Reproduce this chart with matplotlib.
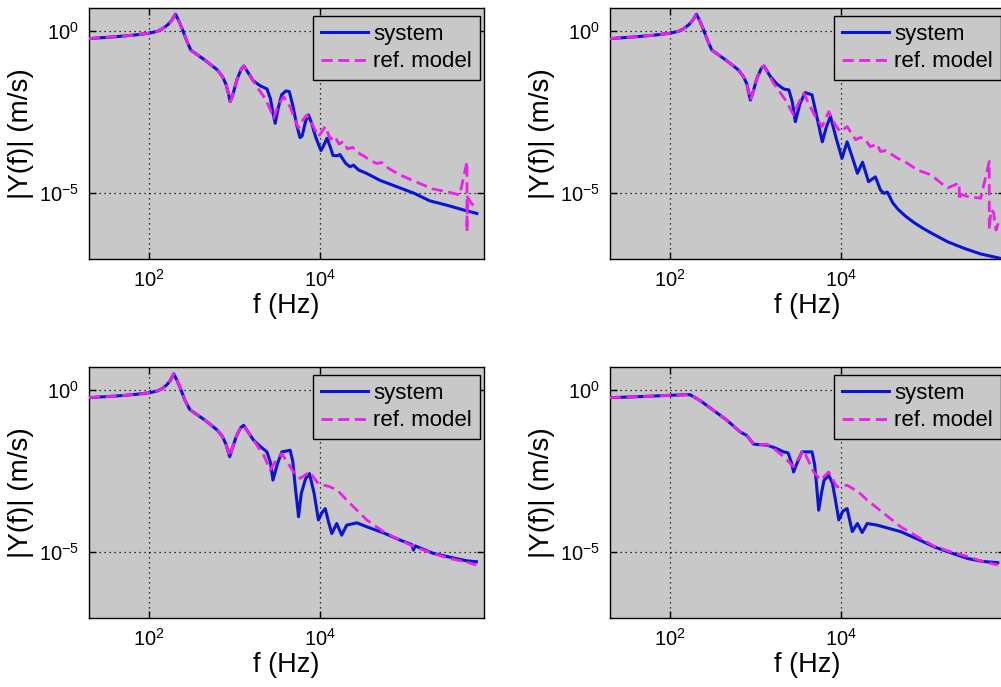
import numpy as np
import matplotlib
matplotlib.use("Agg")
import matplotlib.pyplot as plt
from matplotlib.ticker import FixedLocator, NullLocator, LogFormatterSciNotation

plt.rcParams['font.family'] = ['Liberation Sans', 'DejaVu Sans']
plt.rcParams['mathtext.fontset'] = 'custom'
plt.rcParams['mathtext.rm'] = 'Liberation Sans'
plt.rcParams['mathtext.it'] = 'Liberation Sans:italic'
plt.rcParams['mathtext.bf'] = 'Liberation Sans:bold'
plt.rcParams['mathtext.default'] = 'regular'

# ---------------- data (log10 of frequency in Hz, log10 of |Y(f)| in m/s) ----------------
# top-left panel
tl_sys_logf = [1.30, 1.60, 1.83, 2.00, 2.10, 2.16, 2.22, 2.27, 2.31, 2.35, 2.39, 2.44, 2.49, 2.66, 2.80, 2.86,
               2.90, 2.93, 2.95, 2.98, 3.03, 3.08, 3.11, 3.16, 3.22, 3.30, 3.38, 3.42, 3.45, 3.475, 3.51, 3.55,
               3.60, 3.64, 3.68, 3.73, 3.765, 3.79, 3.83, 3.865, 3.90, 3.95, 4.01, 4.04, 4.08, 4.12, 4.15, 4.20,
               4.23, 4.30, 4.35, 4.39, 4.45, 4.54, 4.70, 4.93, 5.10, 5.28, 5.50, 5.67, 5.83]
tl_sys_logy = [-0.245, -0.19, -0.135, -0.08, -0.02, 0.06, 0.18, 0.33, 0.51, 0.30, 0.05, -0.30, -0.60, -0.92,
               -1.21, -1.42, -1.65, -1.95, -2.19, -1.98, -1.50, -1.18, -1.09, -1.30, -1.55, -1.70, -1.80, -2.10,
               -2.55, -2.86, -2.40, -1.98, -1.86, -1.88, -2.30, -2.95, -3.30, -3.25, -2.80, -2.60, -2.85, -3.30,
               -3.70, -3.55, -3.32, -3.60, -3.85, -3.86, -3.82, -4.10, -4.20, -4.15, -4.30, -4.40, -4.62, -4.85,
               -5.02, -5.25, -5.40, -5.53, -5.64]
tl_ref_logf = [1.30, 1.60, 1.83, 2.00, 2.10, 2.16, 2.22, 2.27, 2.31, 2.35, 2.39, 2.44, 2.49, 2.66, 2.80, 2.86,
               2.90, 2.93, 2.95, 2.98, 3.03, 3.08, 3.11, 3.17, 3.26, 3.36, 3.42, 3.457, 3.51, 3.574, 3.65, 3.70,
               3.748, 3.80, 3.846, 3.92, 3.98, 4.06, 4.12, 4.17, 4.22, 4.27, 4.32, 4.38, 4.43, 4.50, 4.58, 4.66,
               4.72, 4.80, 4.93, 5.16, 5.31, 5.48, 5.63, 5.715, 5.715, 5.72, 5.76, 5.83]
tl_ref_logy = [-0.245, -0.19, -0.135, -0.08, -0.02, 0.06, 0.18, 0.33, 0.51, 0.30, 0.05, -0.30, -0.60, -0.92,
               -1.21, -1.42, -1.65, -1.95, -2.19, -1.98, -1.50, -1.18, -1.09, -1.35, -1.73, -2.10, -2.45, -2.70,
               -2.30, -2.04, -2.35, -2.70, -3.01, -2.75, -2.60, -2.95, -3.27, -2.96, -3.35, -3.25, -3.50, -3.42,
               -3.65, -3.60, -3.75, -3.85, -3.99, -4.10, -4.07, -4.25, -4.45, -4.71, -4.88, -4.97, -5.07, -4.04,
               -6.20, -5.13, -5.30, -5.53]

# top-right panel
tr_sys_logf = [1.30, 1.60, 1.83, 2.00, 2.10, 2.16, 2.22, 2.27, 2.31, 2.35, 2.39, 2.44, 2.49, 2.66, 2.80, 2.86,
               2.90, 2.92, 2.94, 2.97, 3.02, 3.07, 3.10, 3.17, 3.25, 3.33, 3.39, 3.43, 3.465, 3.52, 3.58, 3.66,
               3.72, 3.78, 3.83, 3.876, 3.94, 4.01, 4.07, 4.13, 4.19, 4.25, 4.32, 4.40, 4.46, 4.50, 4.54, 4.60,
               4.66, 4.75, 4.85, 4.95, 5.05, 5.24, 5.44, 5.63, 5.85]
tr_sys_logy = [-0.245, -0.19, -0.135, -0.08, -0.02, 0.06, 0.18, 0.33, 0.51, 0.30, 0.05, -0.30, -0.60, -0.92,
               -1.21, -1.42, -1.65, -1.90, -2.14, -1.90, -1.45, -1.15, -1.09, -1.40, -1.65, -1.80, -1.83, -2.20,
               -2.81, -2.25, -1.91, -1.98, -2.70, -3.43, -2.95, -2.65, -3.30, -3.94, -3.43, -3.90, -4.40, -4.06,
               -4.66, -4.51, -4.92, -5.02, -4.98, -5.30, -5.50, -5.72, -5.92, -6.09, -6.24, -6.51, -6.72, -6.89,
               -7.02]
tr_ref_logf = [1.30, 1.60, 1.83, 2.00, 2.10, 2.16, 2.22, 2.27, 2.31, 2.35, 2.39, 2.44, 2.49, 2.66, 2.80, 2.86,
               2.90, 2.92, 2.94, 2.97, 3.02, 3.07, 3.10, 3.21, 3.35, 3.445, 3.50, 3.563, 3.63, 3.70, 3.778,
               3.856, 3.93, 3.99, 4.07, 4.17, 4.22, 4.27, 4.34, 4.42, 4.46, 4.52, 4.66, 4.75, 4.89, 5.05, 5.24,
               5.38, 5.38, 5.40, 5.48, 5.63, 5.73, 5.73, 5.75, 5.78, 5.81, 5.84]
tr_ref_logy = [-0.245, -0.19, -0.135, -0.08, -0.02, 0.06, 0.18, 0.33, 0.51, 0.30, 0.05, -0.30, -0.60, -0.92,
               -1.21, -1.42, -1.65, -1.90, -2.14, -1.90, -1.45, -1.15, -1.09, -1.62, -2.14, -2.60, -2.25, -1.93,
               -2.30, -2.65, -2.96, -2.50, -2.90, -3.12, -2.96, -3.37, -3.30, -3.32, -3.58, -3.50, -3.73, -3.70,
               -3.94, -4.05, -4.30, -4.45, -4.86, -4.70, -5.23, -5.05, -5.12, -5.17, -4.04, -6.15, -5.53, -5.60,
               -6.15, -5.90]

# bottom-left panel
bl_sys_logf = [1.30, 1.60, 1.83, 2.00, 2.10, 2.16, 2.21, 2.25, 2.29, 2.33, 2.37, 2.42, 2.48, 2.66, 2.80, 2.86,
               2.90, 2.925, 2.944, 2.97, 3.02, 3.07, 3.107, 3.17, 3.223, 3.30, 3.379, 3.42, 3.449, 3.50, 3.553,
               3.65, 3.68, 3.71, 3.748, 3.78, 3.83, 3.876, 3.93, 3.98, 4.02, 4.06, 4.10, 4.136, 4.194, 4.252,
               4.31, 4.43, 4.544, 4.75, 4.932, 5.07, 5.09, 5.11, 5.32, 5.50, 5.709, 5.825]
bl_sys_logy = [-0.246, -0.20, -0.15, -0.10, -0.04, 0.04, 0.15, 0.28, 0.49, 0.28, 0.03, -0.32, -0.62, -0.95,
               -1.25, -1.45, -1.68, -1.90, -2.07, -1.85, -1.45, -1.18, -1.10, -1.35, -1.56, -1.75, -1.92, -2.25,
               -2.79, -2.30, -1.92, -1.87, -2.20, -3.00, -3.92, -3.20, -2.75, -2.59, -3.20, -4.02, -3.80, -3.67,
               -4.10, -4.44, -4.13, -4.49, -4.18, -4.11, -4.23, -4.43, -4.64, -4.78, -4.95, -4.82, -5.05, -5.16,
               -5.28, -5.31]
bl_ref_logf = [1.30, 1.60, 1.83, 2.00, 2.10, 2.16, 2.21, 2.25, 2.29, 2.33, 2.37, 2.42, 2.48, 2.66, 2.80, 2.86,
               2.90, 2.925, 2.944, 2.97, 3.02, 3.07, 3.107, 3.17, 3.223, 3.34, 3.417, 3.48, 3.553, 3.62, 3.69,
               3.767, 3.876, 3.98, 4.05, 4.117, 4.20, 4.35, 4.544, 4.75, 4.932, 5.10, 5.32, 5.50, 5.709, 5.825]
bl_ref_logy = [-0.246, -0.20, -0.15, -0.10, -0.04, 0.04, 0.15, 0.28, 0.49, 0.28, 0.03, -0.32, -0.62, -0.95,
               -1.25, -1.45, -1.68, -1.90, -2.07, -1.85, -1.45, -1.18, -1.10, -1.35, -1.56, -2.02, -2.48, -2.20,
               -1.97, -2.25, -2.54, -2.74, -2.54, -2.90, -2.95, -3.00, -3.10, -3.51, -4.02, -4.40, -4.64, -4.85,
               -5.05, -5.20, -5.32, -5.41]

# bottom-right panel
br_sys_logf = [1.30, 1.60, 2.00, 2.15, 2.234, 2.35, 2.50, 2.664, 2.82, 2.90, 2.977, 3.05, 3.133, 3.23, 3.328,
               3.38, 3.42, 3.445, 3.48, 3.543, 3.66, 3.69, 3.715, 3.738, 3.77, 3.80, 3.855, 3.90, 3.94, 3.973,
               4.02, 4.07, 4.13, 4.19, 4.246, 4.305, 4.42, 4.695, 4.90, 5.086, 5.30, 5.477, 5.65, 5.83]
br_sys_logy = [-0.246, -0.22, -0.175, -0.16, -0.154, -0.33, -0.62, -0.94, -1.30, -1.42, -1.68, -1.70, -1.71,
               -1.80, -1.92, -1.95, -2.25, -2.54, -2.30, -1.92, -1.92, -2.30, -3.00, -3.72, -3.20, -2.80, -2.64,
               -2.90, -3.50, -4.02, -3.75, -3.67, -4.38, -4.13, -4.41, -4.13, -4.18, -4.38, -4.62, -4.85, -5.05,
               -5.21, -5.30, -5.34]
br_ref_logf = [1.30, 1.60, 2.00, 2.15, 2.234, 2.35, 2.50, 2.664, 2.82, 2.90, 2.977, 3.05, 3.133, 3.23, 3.328,
               3.445, 3.56, 3.68, 3.76, 3.855, 3.95, 4.07, 4.20, 4.305, 4.50, 4.695, 4.90, 5.086, 5.30, 5.477,
               5.65, 5.83]
br_ref_logy = [-0.246, -0.22, -0.175, -0.16, -0.154, -0.33, -0.62, -0.94, -1.30, -1.42, -1.68, -1.70, -1.68,
               -1.85, -2.07, -2.38, -1.87, -2.54, -2.79, -2.54, -3.00, -2.95, -3.15, -3.41, -3.82, -4.23, -4.55,
               -4.83, -5.02, -5.15, -5.30, -5.41]

panels = [
    (tl_sys_logf, tl_sys_logy, tl_ref_logf, tl_ref_logy),
    (tr_sys_logf, tr_sys_logy, tr_ref_logf, tr_ref_logy),
    (bl_sys_logf, bl_sys_logy, bl_ref_logf, bl_ref_logy),
    (br_sys_logf, br_sys_logy, br_ref_logf, br_ref_logy),
]
legend_labels = ["system", "ref. model"]
x_label = "f (Hz)"
y_label = "|Y(f)| (m/s)"
x_ticks = [1e2, 1e4]
y_ticks = [1e-5, 1e0]
x_lim = (20, 8.2e5)
y_lim = (9e-8, 5.0)

# ---------------- figure ----------------
W, H = 1001, 687
fig = plt.figure(figsize=(W / 100, H / 100), dpi=100)
fig.patch.set_facecolor('white')

ax_w, ax_h = 395 / W, 251 / H
positions = [
    (89 / W, 1 - 259 / H),
    (610 / W, 1 - 259 / H),
    (89 / W, 1 - 618 / H),
    (610 / W, 1 - 618 / H),
]
gray = '#c8c8c8'
blue = '#0a14d8'
magenta = '#f01cf0'

for (x0, y0), (sf, sy, rf, ry) in zip(positions, panels):
    ax = fig.add_axes([x0, y0, ax_w, ax_h])
    ax.set_facecolor(gray)
    ax.plot(10 ** np.array(sf), 10 ** np.array(sy), color=blue, lw=2.2, label=legend_labels[0],
            solid_joinstyle='round', zorder=3)
    ax.plot(10 ** np.array(rf), 10 ** np.array(ry), color=magenta, lw=2.0, ls=(0, (4, 2)),
            label=legend_labels[1], zorder=4)
    ax.set_xscale('log')
    ax.set_yscale('log')
    ax.set_xlim(*x_lim)
    ax.set_ylim(*y_lim)
    ax.xaxis.set_major_locator(FixedLocator(x_ticks))
    ax.yaxis.set_major_locator(FixedLocator(y_ticks))
    ax.xaxis.set_minor_locator(NullLocator())
    ax.yaxis.set_minor_locator(NullLocator())
    ax.xaxis.set_major_formatter(LogFormatterSciNotation())
    ax.yaxis.set_major_formatter(LogFormatterSciNotation())
    ax.tick_params(which='both', direction='in', top=True, right=True, length=5, width=1,
                   labelsize=14.5, pad=7, colors='black')
    ax.grid(True, which='major', color='black', ls=(0, (1, 3)), lw=0.9)
    for sp in ax.spines.values():
        sp.set_linewidth(1.0)
        sp.set_color('black')
    ax.set_xlabel(x_label, fontsize=19.5, labelpad=2)
    ax.set_ylabel(y_label, fontsize=20, labelpad=4)
    leg = ax.legend(loc='upper right', bbox_to_anchor=(391 / 395, 243 / 251), borderaxespad=0,
                    fontsize=16, handlelength=2.1, handletextpad=0.25, labelspacing=0.3,
                    borderpad=0.35, fancybox=False, framealpha=1, facecolor=gray, edgecolor='black')
    leg.get_frame().set_linewidth(1.0)

fig.savefig('out.png', dpi=100, facecolor='white')
